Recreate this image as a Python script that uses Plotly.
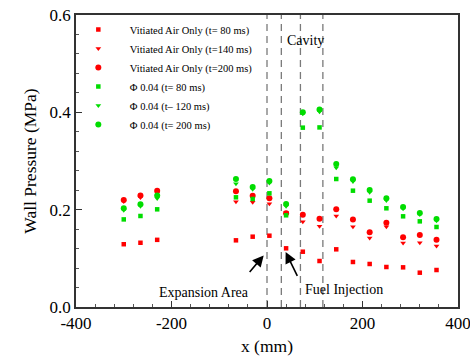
import plotly.graph_objects as go

x_pos = [-300, -265, -230, -65, -30, 5, 40, 75, 110, 145, 180, 215, 250, 285, 320, 355]

va_80 = [0.129, 0.132, 0.138, 0.137, 0.1445, 0.1465, 0.1206, 0.1136, 0.0945, 0.1185, 0.0925, 0.0884, 0.0822, 0.0815, 0.0705, 0.076]
va_140 = [0.217, 0.225, 0.234, 0.2164, 0.215, 0.212, 0.194, 0.175, 0.166, 0.187, 0.165, 0.1418, 0.165, 0.1315, 0.132, 0.1253]
va_200 = [0.22, 0.229, 0.239, 0.2377, 0.2287, 0.2233, 0.1925, 0.1897, 0.1815, 0.2007, 0.180, 0.1535, 0.1733, 0.1432, 0.148, 0.1383]
phi_80 = [0.180, 0.187, 0.2007, 0.2254, 0.222, 0.2336, 0.1884, 0.3685, 0.369, 0.263, 0.239, 0.2185, 0.2028, 0.1863, 0.176, 0.1644]
phi_120 = [0.199, 0.207, 0.223, 0.253, 0.242, 0.255, 0.207, 0.397, 0.401, 0.286, 0.258, 0.236, 0.219, 0.202, 0.190, 0.177]
phi_200 = [0.203, 0.211, 0.229, 0.263, 0.2466, 0.259, 0.2116, 0.400, 0.406, 0.2938, 0.2623, 0.2404, 0.2233, 0.2055, 0.1931, 0.1808]

series_names = [
    "Vitiated Air Only (t= 80 ms)",
    "Vitiated Air Only (t=140 ms)",
    "Vitiated Air Only (t=200 ms)",
    "\u03a6 0.04 (t= 80 ms)",
    "\u03a6 0.04 (t\u2013 120 ms)",
    "\u03a6 0.04 (t= 200 ms)",
]
series_values = [va_80, va_140, va_200, phi_80, phi_120, phi_200]
series_colors = ["#ff0000", "#ff0000", "#ff0000", "#00dd00", "#00dd00", "#00dd00"]
series_symbols = ["square", "triangle-down", "circle", "square", "triangle-down", "circle"]
series_sizes = [4.5, 5, 6, 4.5, 5, 6]

x_tick_vals = [-400, -200, 0, 200, 400]
x_tick_labels = ["-400", "-200", "0", "200", "400"]
y_tick_vals = [0.0, 0.2, 0.4, 0.6]
y_tick_labels = ["0.0", "0.2", "0.4", "0.6"]

dashed_x = [0, 30, 70, 117]

FONT = "Liberation Serif, Times New Roman, serif"

fig = go.Figure()
for i in range(len(series_names)):
    fig.add_trace(go.Scatter(
        x=x_pos, y=series_values[i], mode="markers", name=series_names[i],
        marker=dict(symbol=series_symbols[i], size=series_sizes[i], color=series_colors[i], line=dict(width=0)),
    ))

for xv in dashed_x:
    fig.add_shape(type="line", xref="x", yref="paper", x0=xv, x1=xv, y0=0, y1=1,
                  line=dict(color="#7a7a7a", width=1.3, dash="7px,5px"), layer="below")

fig.add_annotation(x=80, y=0.547, text="Cavity", showarrow=False,
                   font=dict(family=FONT, size=14, color="black"))
fig.add_annotation(x=-132, y=0.029, text="Expansion Area", showarrow=False,
                   font=dict(family=FONT, size=14, color="black"))
fig.add_annotation(x=162, y=0.035, text="Fuel Injection", showarrow=False,
                   font=dict(family=FONT, size=14, color="black"))
fig.add_annotation(x=-7, y=0.106, ax=-39, ay=0.069, xref="x", yref="y", axref="x", ayref="y",
                   text="", showarrow=True, arrowhead=2, arrowsize=1.4, arrowwidth=1.6, arrowcolor="black")
fig.add_annotation(x=39, y=0.113, ax=65, ay=0.061, xref="x", yref="y", axref="x", ayref="y",
                   text="", showarrow=True, arrowhead=2, arrowsize=1.4, arrowwidth=1.6, arrowcolor="black")

fig.update_layout(
    width=470, height=356,
    margin=dict(l=76, r=12, t=15, b=49, autoexpand=False),
    paper_bgcolor="white", plot_bgcolor="white",
    font=dict(family=FONT, size=17, color="black"),
    showlegend=True,
    legend=dict(x=-0.024, y=1.0, xanchor="left", yanchor="top",
                bgcolor="rgba(0,0,0,0)", font=dict(family=FONT, size=10.5, color="black"),
                itemwidth=53, tracegroupgap=0),
)
fig.update_xaxes(
    range=[-400, 400], tickmode="array", tickvals=x_tick_vals, ticktext=x_tick_labels,
    showgrid=False, zeroline=False, ticklabeloverflow="allow",
    ticks="inside", ticklen=6, tickcolor="#333", showline=True, linecolor="#333", linewidth=1.5, mirror=True,
    minor=dict(dtick=40, tick0=0, ticks="inside", ticklen=3, tickcolor="#555", showgrid=False),
    title=dict(text="x (mm)", font=dict(family=FONT, size=17.5), standoff=9),
    tickfont=dict(family=FONT, size=17),
)
fig.update_yaxes(
    range=[0, 0.6], tickmode="array", tickvals=y_tick_vals, ticktext=y_tick_labels,
    showgrid=False, zeroline=False, ticklabeloverflow="allow",
    ticks="inside", ticklen=6, tickcolor="#333", showline=True, linecolor="#333", linewidth=1.5, mirror=True,
    minor=dict(dtick=0.04, tick0=0, ticks="inside", ticklen=3, tickcolor="#555", showgrid=False),
    title=dict(text="Wall Pressure (MPa)", font=dict(family=FONT, size=17.5), standoff=8),
    tickfont=dict(family=FONT, size=17),
)

fig.write_html("out.html")
